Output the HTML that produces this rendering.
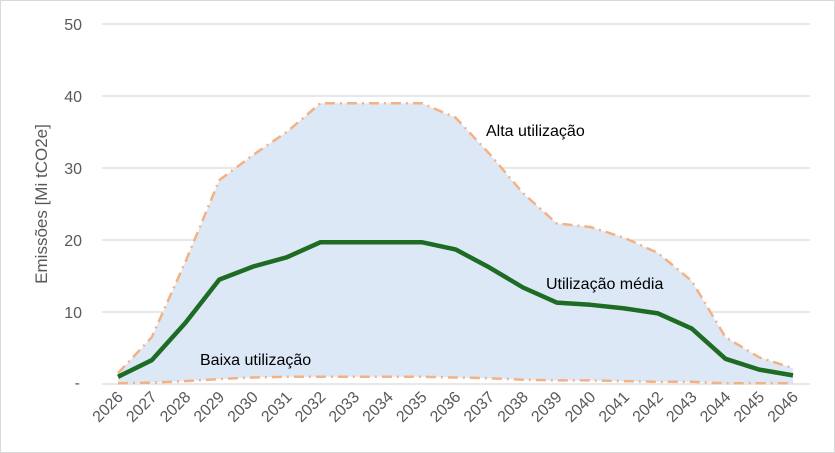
<!DOCTYPE html>
<html><head><meta charset="utf-8"><style>
body{margin:0;background:#fff}
svg{display:block}
text{font-family:"Liberation Sans",sans-serif}
</style></head><body>
<svg width="835" height="453" viewBox="0 0 835 453" xmlns="http://www.w3.org/2000/svg">
<rect x="0.5" y="0.5" width="834" height="452" fill="#fff" stroke="#d9d9d9"/>
<g stroke="#d9d9d9" stroke-width="1.3">
<line x1="102" y1="24" x2="810" y2="24"/><line x1="102" y1="96" x2="810" y2="96"/>
<line x1="102" y1="168" x2="810" y2="168"/><line x1="102" y1="240" x2="810" y2="240"/>
<line x1="102" y1="312" x2="810" y2="312"/><line x1="102" y1="384" x2="810" y2="384"/>
</g>
<g fill="#595959" font-size="16" text-anchor="end">
<text x="82" y="30">50</text><text x="82" y="102">40</text><text x="82" y="174">30</text>
<text x="82" y="246">20</text><text x="82" y="318">10</text><text x="80" y="388">-</text>
</g>
<text transform="translate(47,204) rotate(-90)" fill="#595959" font-size="17" text-anchor="middle">Emissões [Mi tCO2e]</text>
<polygon fill="#dce8f6" points="118,373.2 151.75,337.2 185.5,261.6 219.25,180.2 253,155 286.75,132 320.5,103.2 354.25,103.2 388,103.2 421.75,103.2 455.5,117.6 489.25,153.6 523,193.2 556.75,223.4 590.5,227 624.25,237.8 658,253 691.75,281 725.5,337.2 759.25,357.4 793,368.2 793,383.3 759.25,383.3 725.5,383.3 691.75,381.8 658,381.8 624.25,381.1 590.5,380.4 556.75,380.4 523,379.7 489.25,378.2 455.5,377.5 421.75,376.8 388,376.8 354.25,376.8 320.5,376.8 286.75,376.8 253,377.5 219.25,379 185.5,381.1 151.75,382.6 118,383.3"/>
<polyline fill="none" stroke="#f4b183" stroke-width="2.5" stroke-dasharray="10,5,2,5" points="118,373.2 151.75,337.2 185.5,261.6 219.25,180.2 253,155 286.75,132 320.5,103.2 354.25,103.2 388,103.2 421.75,103.2 455.5,117.6 489.25,153.6 523,193.2 556.75,223.4 590.5,227 624.25,237.8 658,253 691.75,281 725.5,337.2 759.25,357.4 793,368.2"/>
<polyline fill="none" stroke="#f4b183" stroke-width="2.5" stroke-dasharray="10,5,2,5" points="118,383.3 151.75,382.6 185.5,381.1 219.25,379 253,377.5 286.75,376.8 320.5,376.8 354.25,376.8 388,376.8 421.75,376.8 455.5,377.5 489.25,378.2 523,379.7 556.75,380.4 590.5,380.4 624.25,381.1 658,381.8 691.75,381.8 725.5,383.3 759.25,383.3 793,383.3"/>
<polyline fill="none" stroke="#1e6b23" stroke-width="4.5" stroke-linejoin="round" points="118,376.8 151.75,360.2 185.5,322.8 219.25,279.6 253,266.6 286.75,257.3 320.5,242.2 354.25,242.2 388,242.2 421.75,242.2 455.5,249.4 489.25,267.4 523,287.5 556.75,302.6 590.5,304.8 624.25,308.4 658,313.4 691.75,328.6 725.5,358.8 759.25,369.6 793,375.4"/>
<g fill="#595959" font-size="16" text-anchor="end">
<text transform="translate(124,398) rotate(-45)">2026</text>
<text transform="translate(157.75,398) rotate(-45)">2027</text>
<text transform="translate(191.5,398) rotate(-45)">2028</text>
<text transform="translate(225.25,398) rotate(-45)">2029</text>
<text transform="translate(259,398) rotate(-45)">2030</text>
<text transform="translate(292.75,398) rotate(-45)">2031</text>
<text transform="translate(326.5,398) rotate(-45)">2032</text>
<text transform="translate(360.25,398) rotate(-45)">2033</text>
<text transform="translate(394,398) rotate(-45)">2034</text>
<text transform="translate(427.75,398) rotate(-45)">2035</text>
<text transform="translate(461.5,398) rotate(-45)">2036</text>
<text transform="translate(495.25,398) rotate(-45)">2037</text>
<text transform="translate(529,398) rotate(-45)">2038</text>
<text transform="translate(562.75,398) rotate(-45)">2039</text>
<text transform="translate(596.5,398) rotate(-45)">2040</text>
<text transform="translate(630.25,398) rotate(-45)">2041</text>
<text transform="translate(664,398) rotate(-45)">2042</text>
<text transform="translate(697.75,398) rotate(-45)">2043</text>
<text transform="translate(731.5,398) rotate(-45)">2044</text>
<text transform="translate(765.25,398) rotate(-45)">2045</text>
<text transform="translate(799,398) rotate(-45)">2046</text>
</g>
<text x="486" y="136" font-size="16" fill="#000">Alta utilização</text>
<text x="546" y="289" font-size="16" fill="#000">Utilização média</text>
<text x="200" y="365" font-size="16" fill="#000">Baixa utilização</text>
</svg>
</body></html>
